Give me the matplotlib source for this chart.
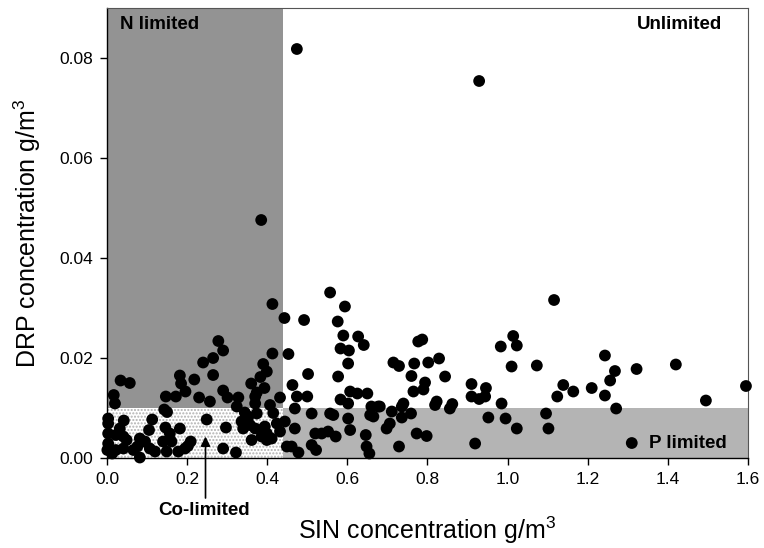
import numpy as np
import matplotlib
matplotlib.use('Agg')
import matplotlib.pyplot as plt
from matplotlib.patches import Rectangle

plt.rcParams['font.family'] = ['Liberation Sans', 'DejaVu Sans']
plt.rcParams['mathtext.fontset'] = 'custom'
plt.rcParams['mathtext.rm'] = 'Liberation Sans'
plt.rcParams['hatch.linewidth'] = 1.0

# SIN (g/m3) and DRP (g/m3)
sin_vals = [
    0.474, 0.929, 0.385, 0.413, 0.443, 0.278, 0.290, 0.265, 0.240, 0.265,
    0.413, 0.390, 0.399, 0.383, 0.453, 0.182, 0.185, 0.196, 0.218, 0.034,
    0.057, 0.017, 0.020, 0.360, 0.393, 0.374, 0.463, 0.290, 0.147, 0.172,
    0.230, 0.301, 0.328, 0.370, 0.432, 0.474, 0.143, 0.150, 0.003, 0.003,
    0.042, 0.032, 0.113, 0.105, 0.146, 0.182, 0.003, 0.022, 0.041, 0.049,
    0.082, 0.095, 0.157, 0.140, 0.161, 0.209, 0.202, 0.003, 0.001, 0.022,
    0.013, 0.041, 0.066, 0.082, 0.107, 0.120, 0.149, 0.178, 0.195, 0.076,
    0.249, 0.257, 0.297, 0.290, 0.322, 0.324, 0.344, 0.353, 0.336, 0.340,
    0.357, 0.370, 0.383, 0.394, 0.399, 0.386, 0.399, 0.411, 0.361, 0.374,
    0.370, 0.407, 0.415, 0.424, 0.432, 0.444, 0.449,
    0.492, 0.594, 0.576, 0.557, 0.590, 0.627, 0.641, 0.583, 0.604, 0.602,
    0.502, 0.577, 0.500, 0.607, 0.625, 0.650, 0.583, 0.602, 0.469, 0.511,
    0.557, 0.565, 0.602, 0.660, 0.657, 0.665, 0.677, 0.469, 0.520, 0.536,
    0.552, 0.571, 0.607, 0.646, 0.461, 0.478, 0.511, 0.522, 0.648, 0.655,
    0.777, 0.787, 0.715, 0.729, 0.767, 0.802, 0.829, 0.760, 0.844, 0.794,
    0.790, 0.765, 0.910, 0.910, 0.681, 0.711, 0.740, 0.736, 0.736, 0.759,
    0.706, 0.698, 0.823, 0.819, 0.862, 0.856, 0.773, 0.798, 0.729, 0.919,
    0.946, 0.944, 0.929, 0.985, 1.139, 1.124, 1.164, 0.952, 0.995, 1.023,
    1.096, 1.102, 1.116, 1.014, 0.983, 1.023, 1.010, 1.073, 1.243, 1.268,
    1.256, 1.243, 1.271, 1.210, 1.322, 1.420, 1.495, 1.595,
]
drp_vals = [
    0.0818, 0.0754, 0.0476, 0.0308, 0.0280, 0.0234, 0.0215, 0.0200, 0.0191, 0.0166,
    0.0209, 0.0188, 0.0173, 0.0162, 0.0208, 0.0165, 0.0149, 0.0133, 0.0157, 0.0155,
    0.0150, 0.0126, 0.0109, 0.0149, 0.0140, 0.0131, 0.0146, 0.0135, 0.0123, 0.0123,
    0.0121, 0.0121, 0.0121, 0.0123, 0.0121, 0.0123, 0.0097, 0.0092, 0.0079, 0.0069,
    0.0075, 0.0059, 0.0077, 0.0056, 0.0061, 0.0059, 0.0049, 0.0046, 0.0043, 0.0036,
    0.0039, 0.0033, 0.0049, 0.0033, 0.0033, 0.0033, 0.0024, 0.0029, 0.0016, 0.0016,
    0.0009, 0.0019, 0.0016, 0.0001, 0.0019, 0.0013, 0.0013, 0.0013, 0.0019, 0.0023,
    0.0077, 0.0113, 0.0061, 0.0019, 0.0011, 0.0103, 0.0091, 0.0083, 0.0073, 0.0059,
    0.0066, 0.0059, 0.0056, 0.0063, 0.0049, 0.0043, 0.0036, 0.0039, 0.0036, 0.0089,
    0.0109, 0.0106, 0.0090, 0.0069, 0.0053, 0.0073, 0.0023,
    0.0276, 0.0303, 0.0273, 0.0331, 0.0245, 0.0243, 0.0226, 0.0219, 0.0215, 0.0189,
    0.0168, 0.0163, 0.0123, 0.0133, 0.0129, 0.0129, 0.0117, 0.0109, 0.0099, 0.0089,
    0.0089, 0.0086, 0.0079, 0.0103, 0.0086, 0.0083, 0.0103, 0.0059, 0.0049, 0.0049,
    0.0053, 0.0043, 0.0056, 0.0046, 0.0023, 0.0011, 0.0026, 0.0016, 0.0023, 0.0009,
    0.0233, 0.0237, 0.0191, 0.0184, 0.0189, 0.0191, 0.0199, 0.0164, 0.0163, 0.0151,
    0.0137, 0.0133, 0.0148, 0.0123, 0.0103, 0.0093, 0.0109, 0.0103, 0.0081, 0.0089,
    0.0069, 0.0059, 0.0113, 0.0106, 0.0108, 0.0099, 0.0049, 0.0044, 0.0023, 0.0029,
    0.0140, 0.0123, 0.0118, 0.0109, 0.0146, 0.0123, 0.0133, 0.0081, 0.0079, 0.0059,
    0.0089, 0.0059, 0.0316, 0.0244, 0.0223, 0.0225, 0.0183, 0.0185, 0.0205, 0.0174,
    0.0155, 0.0125, 0.0099, 0.0140, 0.0178, 0.0187, 0.0115, 0.0144,
]

# limitation thresholds
sin_limit = 0.44
drp_limit = 0.01
x_max = 1.6
y_max = 0.09

fig = plt.figure(figsize=(7.64, 5.48), dpi=100)
ax = fig.add_axes([0.140, 0.1642, 0.839, 0.8212])

# zones
ax.add_patch(Rectangle((0, drp_limit), sin_limit, y_max - drp_limit,
                       facecolor='#939393', edgecolor='none', zorder=0))
ax.add_patch(Rectangle((sin_limit, 0), x_max - sin_limit, drp_limit,
                       facecolor='#b4b4b4', edgecolor='none', zorder=0))
ax.add_patch(Rectangle((0, 0), sin_limit, drp_limit, facecolor='white',
                       edgecolor='#b0b0b0', hatch='.....', lw=0, zorder=0))

ax.scatter(sin_vals, drp_vals, s=72, c='black', edgecolors='none',
           zorder=3, clip_on=False)

ax.set_xlim(0, x_max)
ax.set_ylim(0, y_max)
ax.set_xticks(np.arange(0, 1.61, 0.2))
ax.set_yticks(np.arange(0, 0.081, 0.02))
ax.set_xticklabels(['%.1f' % v for v in np.arange(0, 1.61, 0.2)])
ax.set_yticklabels(['%.2f' % v for v in np.arange(0, 0.081, 0.02)])
ax.tick_params(direction='out', length=5, width=1, labelsize=12.5, pad=5)

for s in ['left', 'bottom']:
    ax.spines[s].set_linewidth(1.0)
for s in ['top', 'right']:
    ax.spines[s].set_linewidth(0.8)
    ax.spines[s].set_color('#555555')

ax.set_xlabel('SIN concentration g/m$^3$', fontsize=18, labelpad=20)
ax.set_ylabel('DRP concentration g/m$^3$', fontsize=18, labelpad=12)

ax.text(0.032, 0.0868, 'N limited', fontsize=13.5, fontweight='bold',
        va='center', ha='left')
ax.text(1.535, 0.0868, 'Unlimited', fontsize=13.5, fontweight='bold',
        va='center', ha='right')
ax.scatter([1.31], [0.003], s=72, c='black', edgecolors='none', zorder=3)
ax.text(1.3525, 0.003, 'P limited', fontsize=13.5, fontweight='bold',
        va='center', ha='left')

ax.annotate('', xy=(0.246, 0.0043), xytext=(0.246, -0.008),
            arrowprops=dict(arrowstyle='-|>', color='black', lw=1.2,
                            mutation_scale=14, shrinkA=0, shrinkB=0),
            annotation_clip=False)
ax.text(0.2425, -0.0105, 'Co-limited', fontsize=13.5, fontweight='bold',
        va='center', ha='center')

fig.savefig('out.png', dpi=100)
